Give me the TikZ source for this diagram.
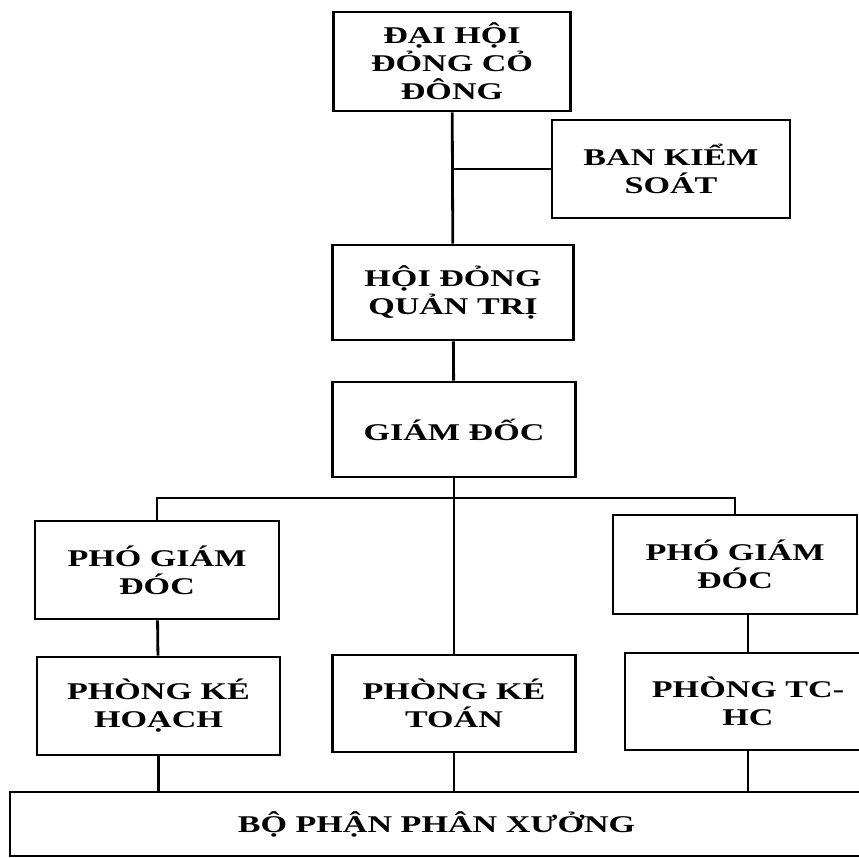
\documentclass[tikz,border=0pt]{standalone}
\usepackage{fontspec}
\newfontfamily\orgfont{Liberation Serif}[FakeStretch=1.42]
\usepackage{tikz}
\usetikzlibrary{positioning,calc}

\begin{document}
\begin{tikzpicture}[x=1pt, y=-1pt, line width=2.8pt,
  unit/.style={rectangle,draw,fill=white,align=center,inner sep=0pt,
    minimum width=241pt,minimum height=97pt,
    font=\orgfont\bfseries\fontsize{24}{28}\selectfont}]
  \useasboundingbox (0,0) rectangle (859,858);
  \clip (0,0) rectangle (859,858);
  % top of the chart
  \node[unit,minimum width=237pt,minimum height=99pt] (dhcd) at (452,61.5) {ĐẠI HỘI\\ĐỎNG CỎ\\ĐÔNG};
  \node[unit,minimum width=238pt,minimum height=98pt] (bks) at (671,169) {BAN KIỂM\\SOÁT};
  \node[unit,minimum height=95pt] (hdqt) at (453,292.5) {HỘI ĐỎNG\\QUẢN TRỊ};
  \node[unit,minimum width=243pt,minimum height=95pt] (gd) at (454,429.5) {GIÁM ĐỐC};
  % middle row
  \node[unit,minimum width=244pt,minimum height=98pt] (pgd1) at (157,570) {PHÓ GIÁM\\ĐÓC};
  \node[unit,minimum width=244pt,minimum height=99pt] (pgd2) at (735,564.5) {PHÓ GIÁM\\ĐÓC};
  \coordinate (bus) at (455,498);
  % departments
  \node[unit,minimum width=243pt,minimum height=98pt] (pkh) at (158.5,706) {PHÒNG KÉ\\HOẠCH};
  \node[unit,minimum width=243pt,minimum height=97pt] (pkt) at (454,703.5) {PHÒNG KÉ\\TOÁN};
  \node[unit,minimum width=246pt,minimum height=97pt] (ptchc) at (748,701.5) {PHÒNG TC-\\HC};
  \node[unit,minimum width=853pt,minimum height=64pt] (bppx) at (436.5,824) {BỘ PHẬN PHÂN XƯỞNG};
  % connectors
  \draw (dhcd) -- (hdqt);
  \draw (bks.west) -- (bks.west -| dhcd.south);
  \draw (hdqt) -- (gd);
  \draw (gd) -- (pkt);
  \draw (pgd1.north) |- (bus) -| (pgd2.north);
  \draw (pgd1) -- (pkh);
  \draw (pgd2.south -| ptchc.north) -- (ptchc.north);
  \foreach \d in {pkh,pkt,ptchc} { \draw (\d.south) -- (\d.south |- bppx.north); }
\end{tikzpicture}
\end{document}
